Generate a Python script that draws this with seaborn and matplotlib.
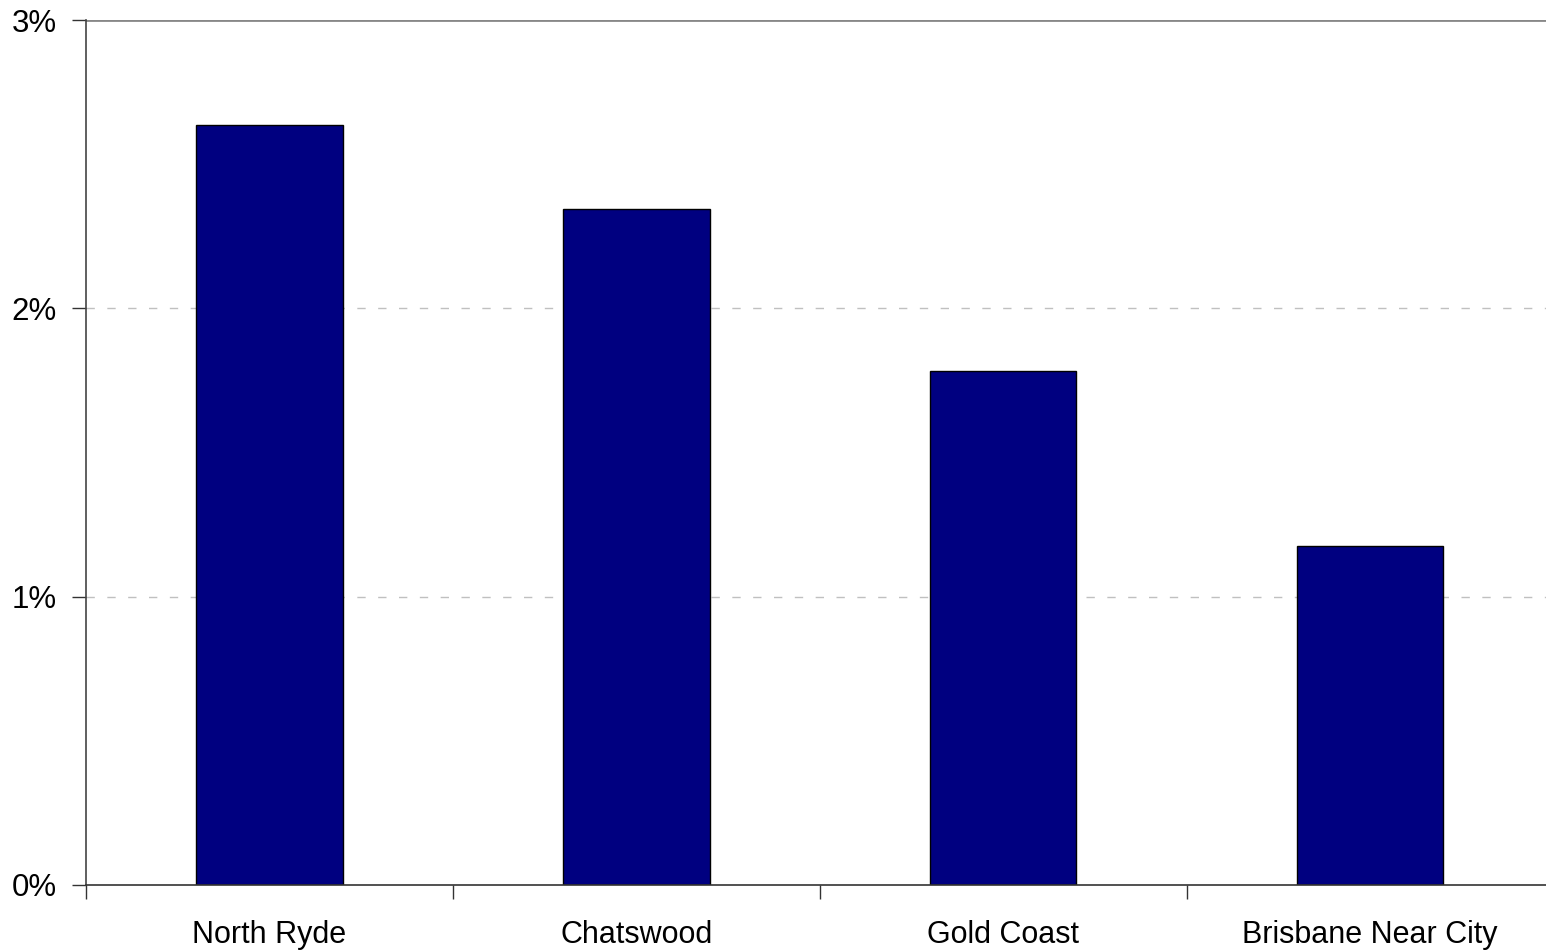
import numpy as np
import pandas as pd
import seaborn as sns
import matplotlib.pyplot as plt
from matplotlib.ticker import FuncFormatter

# data (percent)
suburbs = ["North Ryde", "Chatswood", "Gold Coast", "Brisbane Near City"]
growth = [2.635, 2.343, 1.782, 1.175]
y_ticks = [0, 1, 2, 3]

df = pd.DataFrame({"suburb": suburbs, "growth": growth})

sns.set_style("white")
plt.rcParams['font.family'] = ['Liberation Sans', 'DejaVu Sans']
plt.rcParams['text.color'] = 'black'
plt.rcParams['xtick.labelcolor'] = 'black'
plt.rcParams['ytick.labelcolor'] = 'black'

fig = plt.figure(figsize=(15.46, 9.5), dpi=100)
ax = fig.add_axes([86 / 1546, 65 / 950, 1 - 86 / 1546, 865 / 950])

# gridlines behind bars
for v in y_ticks[1:-1]:
    ax.axhline(v, color="#c0c0c0", lw=1, ls=(0, (6, 9)), zorder=0)
ax.axhline(3, color="#888888", lw=2, zorder=0)

sns.barplot(data=df, x="suburb", y="growth", color="#000080", width=0.4,
            edgecolor="black", linewidth=1, saturation=1, ax=ax, zorder=2)

ax.set_xlim(-0.5, len(suburbs) - 0.52)
ax.set_ylim(0, 3)
ax.set_yticks(y_ticks)
ax.yaxis.set_major_formatter(FuncFormatter(lambda v, p: f"{v:.0f}%"))
ax.set_xlabel("")
ax.set_ylabel("")

# category boundary ticks
ax.set_xticks(np.arange(len(suburbs)) - 0.5, minor=True)
ax.tick_params(axis="x", which="major", length=0, pad=25, labelsize=22,
               labelcolor="black")
ax.tick_params(axis="x", which="minor", length=10, width=1, color="#333333",
               direction="out", bottom=True)
ax.tick_params(axis="y", length=10, width=1, color="#333333", direction="out",
               left=True, pad=11, labelsize=22.5, labelcolor="black")

for s in ["top", "right"]:
    ax.spines[s].set_visible(False)
ax.spines["left"].set_color("#444444")
ax.spines["bottom"].set_color("#333333")
ax.spines["left"].set_linewidth(1.2)
ax.spines["bottom"].set_linewidth(1.2)

fig.savefig("out.png", dpi=100)
